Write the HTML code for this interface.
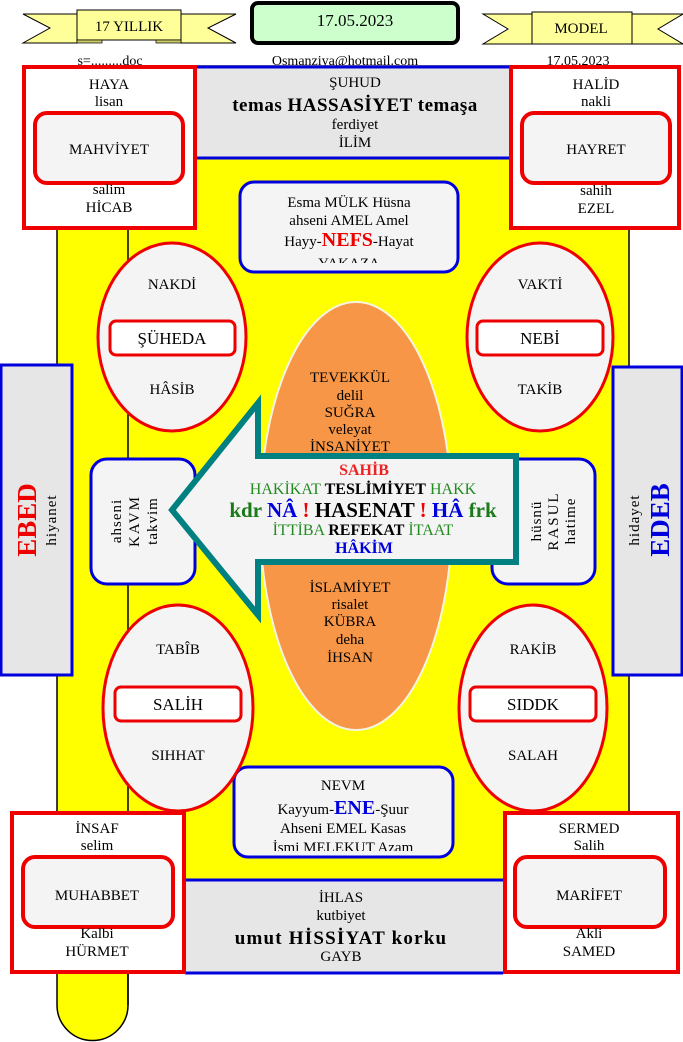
<!DOCTYPE html>
<html><head><meta charset="utf-8"><style>
html,body{margin:0;padding:0;background:#fff;}
svg{display:block;font-family:"Liberation Serif",serif;font-size:15px;}
text{text-anchor:middle;}
.b{font-weight:bold;}
</style></head><body>
<svg width="683" height="1042" viewBox="0 0 683 1042" xmlns="http://www.w3.org/2000/svg">
<path d="M57 880 L57 1005 A35.5 35.5 0 0 0 128 1005 L128 880 Z" fill="#ffff00" stroke="#000" stroke-width="1.5"/>
<rect x="57" y="66" width="572" height="814" fill="#ffff00" stroke="#000" stroke-width="1.5"/>
<line x1="128" y1="66" x2="128" y2="1005" stroke="#000" stroke-width="1.5"/>

<polygon points="23,14 77,14 77,43 23,43 50,28" fill="#ffff99" stroke="#000"/>
<polygon points="236,14 181,14 181,43 236,43 208,28" fill="#ffff99" stroke="#000"/>
<rect x="77" y="10" width="104" height="30" fill="#ffff99" stroke="#000"/>
<rect x="77" y="40" width="25" height="3" fill="#cccc66" stroke="#000" stroke-width="0.7"/>
<rect x="156" y="40" width="25" height="3" fill="#cccc66" stroke="#000" stroke-width="0.7"/>
<text x="129" y="31" font-size="15">17 YILLIK</text>

<polygon points="483,14 532,14 532,44 483,44 508,29" fill="#ffff99" stroke="#000"/>
<polygon points="683,14 632,14 632,44 683,44 658,29" fill="#ffff99" stroke="#000"/>
<rect x="532" y="12" width="100" height="32" fill="#ffff99" stroke="#000"/>
<text x="581" y="33" font-size="15">MODEL</text>

<rect x="252" y="3" width="206" height="40" rx="6" fill="#ccffcc" stroke="#000" stroke-width="4"/>
<text x="355" y="26" font-size="17">17.05.2023</text>

<text x="110" y="65" font-size="14">s=.........doc</text>
<text x="345" y="65" font-size="14">Osmanziya@hotmail.com</text>
<text x="578" y="65" font-size="14">17.05.2023</text>

<rect x="197" y="67" width="314" height="91" fill="#e6e6e6"/>
<line x1="197" y1="67" x2="511" y2="67" stroke="#0000dd" stroke-width="3"/>
<line x1="197" y1="158" x2="511" y2="158" stroke="#0000dd" stroke-width="3"/>
<text x="355" y="87">ŞUHUD</text>
<text x="355" y="111" class="b" font-size="19" letter-spacing="0.5">temas  HASSASİYET temaşa</text>
<text x="355" y="129">ferdiyet</text>
<text x="355" y="147">İLİM</text>

<rect x="185" y="880" width="318" height="93" fill="#e6e6e6"/>
<line x1="185" y1="880" x2="503" y2="880" stroke="#0000dd" stroke-width="3"/>
<line x1="185" y1="973" x2="503" y2="973" stroke="#0000dd" stroke-width="3"/>
<text x="341" y="902">İHLAS</text>
<text x="341" y="920">kutbiyet</text>
<text x="341" y="944" class="b" font-size="19" letter-spacing="1.2">umut  HİSSİYAT  korku</text>
<text x="341" y="961">GAYB</text>

<rect x="24" y="67" width="171" height="161" fill="#fff" stroke="#ee0000" stroke-width="4"/>
<rect x="35" y="113" width="148" height="70" rx="12" fill="#f4f4f4" stroke="#ee0000" stroke-width="4"/>
<text x="109" y="89">HAYA</text><text x="109" y="106">lisan</text>
<text x="109" y="154">MAHVİYET</text>
<text x="109" y="194">salim</text><text x="109" y="212">HİCAB</text>

<rect x="511" y="67" width="168" height="161" fill="#fff" stroke="#ee0000" stroke-width="4"/>
<rect x="522" y="113" width="148" height="70" rx="12" fill="#f4f4f4" stroke="#ee0000" stroke-width="4"/>
<text x="596" y="89">HALİD</text><text x="596" y="106">nakli</text>
<text x="596" y="154">HAYRET</text>
<text x="596" y="195">sahih</text><text x="596" y="213">EZEL</text>

<rect x="12" y="813" width="172" height="159" fill="#fff" stroke="#ee0000" stroke-width="4"/>
<rect x="23" y="857" width="150" height="70" rx="12" fill="#f4f4f4" stroke="#ee0000" stroke-width="4"/>
<text x="97" y="833">İNSAF</text><text x="97" y="850">selim</text>
<text x="97" y="900">MUHABBET</text>
<text x="97" y="938">Kalbi</text><text x="97" y="956">HÜRMET</text>

<rect x="505" y="813" width="173" height="159" fill="#fff" stroke="#ee0000" stroke-width="4"/>
<rect x="515" y="857" width="150" height="70" rx="12" fill="#f4f4f4" stroke="#ee0000" stroke-width="4"/>
<text x="589" y="833">SERMED</text><text x="589" y="850">Salih</text>
<text x="589" y="900">MARİFET</text>
<text x="589" y="938">Akli</text><text x="589" y="956">SAMED</text>

<rect x="240" y="182" width="218" height="90" rx="14" fill="#f4f4f4" stroke="#0000dd" stroke-width="3"/>
<text x="349" y="207">Esma MÜLK Hüsna</text>
<text x="349" y="225">ahseni AMEL Amel</text>
<text x="349" y="246">Hayy-<tspan class="b" fill="#ee0000" font-size="20">NEFS</tspan>-Hayat</text>
<clipPath id="c1"><rect x="240" y="182" width="218" height="81"/></clipPath>
<text x="349" y="268" clip-path="url(#c1)">YAKAZA</text>

<rect x="234" y="767" width="219" height="90" rx="14" fill="#f4f4f4" stroke="#0000dd" stroke-width="3"/>
<text x="343" y="790">NEVM</text>
<text x="343" y="814">Kayyum-<tspan class="b" fill="#0000dd" font-size="20">ENE</tspan>-Şuur</text>
<text x="343" y="833">Ahseni EMEL Kasas</text>
<clipPath id="c2"><rect x="234" y="767" width="219" height="84"/></clipPath>
<text x="343" y="852" clip-path="url(#c2)">İsmi MELEKUT Azam</text>

<rect x="1" y="365" width="71" height="310" fill="#e6e6e6" stroke="#0000dd" stroke-width="3"/>
<text transform="translate(36,520) rotate(-90)" class="b" font-size="27" fill="#ee0000">EBED</text>
<text transform="translate(56,520) rotate(-90)" letter-spacing="1">hiyanet</text>
<rect x="613" y="367" width="69" height="308" fill="#e6e6e6" stroke="#0000dd" stroke-width="3"/>
<text transform="translate(669,520) rotate(-90)" class="b" font-size="27" fill="#0000dd">EDEB</text>
<text transform="translate(639,520) rotate(-90)" letter-spacing="1">hidayet</text>

<ellipse cx="172" cy="337" rx="74" ry="94" fill="#f4f4f4" stroke="#ee0000" stroke-width="3"/>
<rect x="110" y="321" width="125" height="34" rx="6" fill="#fff" stroke="#ee0000" stroke-width="3"/>
<text x="172" y="289">NAKDİ</text><text x="172" y="344" font-size="17">ŞÜHEDA</text><text x="172" y="394">HÂSİB</text>

<ellipse cx="540" cy="337" rx="73" ry="94" fill="#f4f4f4" stroke="#ee0000" stroke-width="3"/>
<rect x="477" y="321" width="126" height="34" rx="6" fill="#fff" stroke="#ee0000" stroke-width="3"/>
<text x="540" y="289">VAKTİ</text><text x="540" y="344" font-size="17">NEBİ</text><text x="540" y="394">TAKİB</text>

<ellipse cx="178" cy="708" rx="75" ry="103" fill="#f4f4f4" stroke="#ee0000" stroke-width="3"/>
<rect x="115" y="687" width="126" height="34" rx="6" fill="#fff" stroke="#ee0000" stroke-width="3"/>
<text x="178" y="654">TABÎB</text><text x="178" y="710" font-size="17">SALİH</text><text x="178" y="760">SIHHAT</text>

<ellipse cx="533" cy="708" rx="74" ry="103" fill="#f4f4f4" stroke="#ee0000" stroke-width="3"/>
<rect x="470" y="687" width="126" height="34" rx="6" fill="#fff" stroke="#ee0000" stroke-width="3"/>
<text x="533" y="654">RAKİB</text><text x="533" y="710" font-size="17">SIDDK</text><text x="533" y="760">SALAH</text>

<rect x="91" y="459" width="104" height="125" rx="16" fill="#f4f4f4" stroke="#0000dd" stroke-width="3"/>
<text transform="translate(121,521) rotate(-90)" letter-spacing="1">ahseni</text>
<text transform="translate(139,521) rotate(-90)" letter-spacing="2">KAVM</text>
<text transform="translate(157,521) rotate(-90)" letter-spacing="1">takvim</text>
<rect x="492" y="459" width="103" height="125" rx="16" fill="#f4f4f4" stroke="#0000dd" stroke-width="3"/>
<text transform="translate(541,521) rotate(-90)" letter-spacing="1">hüsnü</text>
<text transform="translate(558,521) rotate(-90)" letter-spacing="2">RASUL</text>
<text transform="translate(575,521) rotate(-90)" letter-spacing="1">hatime</text>

<ellipse cx="356" cy="516" rx="96" ry="214" fill="#f79646" stroke="#f4f4e0" stroke-width="2"/>
<text x="350" y="382">TEVEKKÜL</text><text x="350" y="400">delil</text><text x="350" y="417">SUĞRA</text>
<text x="350" y="434">veleyat</text><text x="350" y="451">İNSANİYET</text>
<text x="350" y="592">İSLAMİYET</text><text x="350" y="609">risalet</text><text x="350" y="626">KÜBRA</text>
<text x="350" y="644">deha</text><text x="350" y="662">İHSAN</text>

<polygon points="172,510 258,403 258,456 516,456 516,562 258,562 258,615" fill="#f4f4f4" stroke="#008080" stroke-width="6" stroke-linejoin="miter"/>
<text x="364" y="475" class="b" fill="#ee2222" font-size="16">SAHİB</text>
<text x="363" y="494" font-size="16"><tspan fill="#228b22">HAKİKAT</tspan>   <tspan class="b">TESLİMİYET</tspan>   <tspan fill="#228b22">HAKK</tspan></text>
<text x="363" y="517" class="b" font-size="21"><tspan fill="#1a7a1a">kdr</tspan> <tspan fill="#0000dd">NÂ</tspan> <tspan fill="#ee0000">!</tspan> HASENAT <tspan fill="#ee0000">!</tspan> <tspan fill="#0000dd">HÂ</tspan> <tspan fill="#1a7a1a">frk</tspan></text>
<text x="363" y="535" font-size="16"><tspan fill="#228b22">İTTİBA</tspan>  <tspan class="b">REFEKAT</tspan>   <tspan fill="#228b22">İTAAT</tspan></text>
<text x="364" y="553" class="b" fill="#0000dd" font-size="16">HÂKİM</text>
</svg>
</body></html>
